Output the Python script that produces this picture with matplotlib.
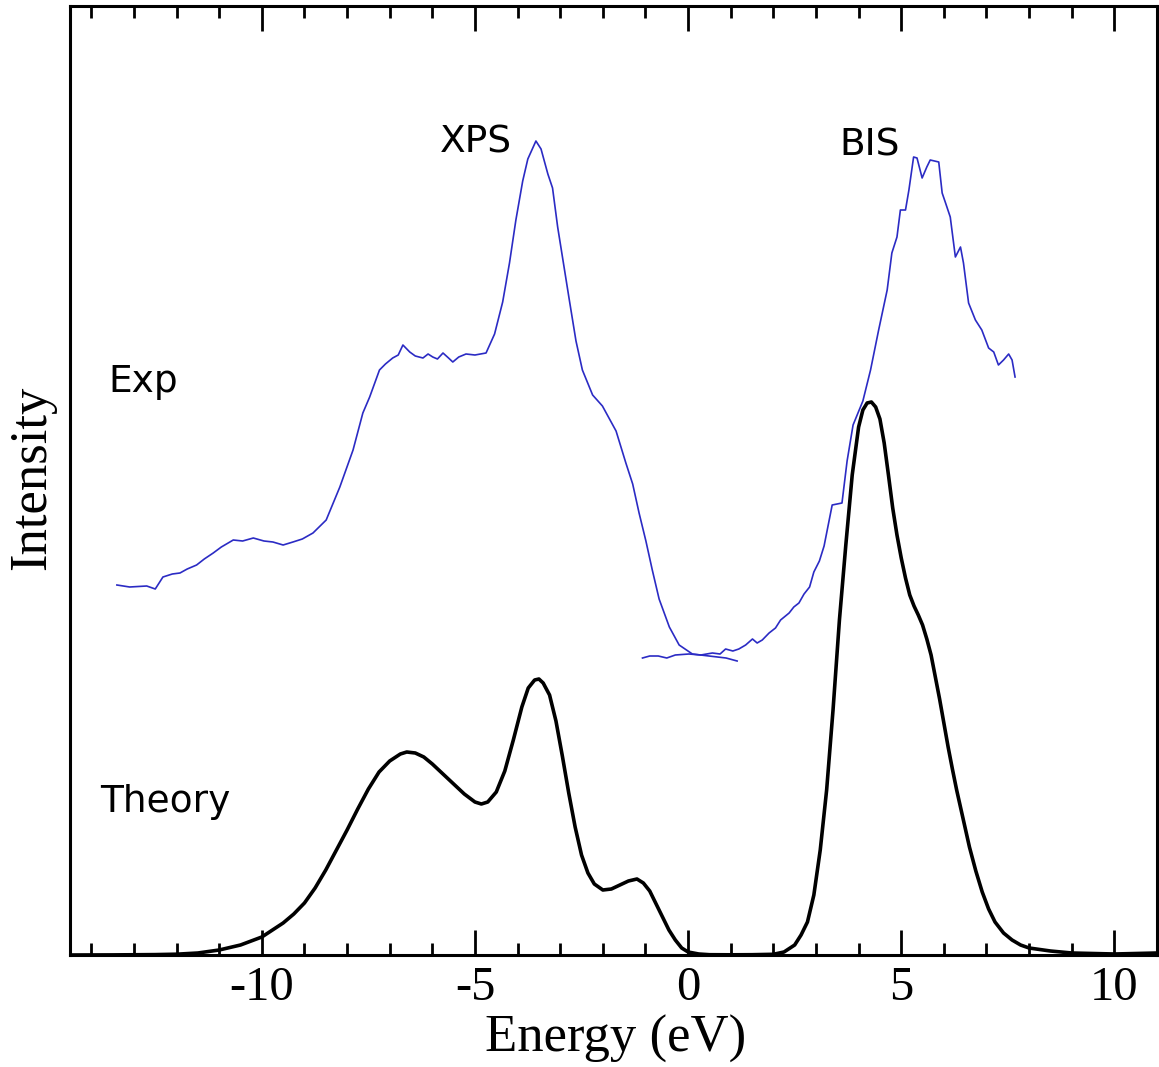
import matplotlib
matplotlib.use("Agg")
import matplotlib.pyplot as plt
from matplotlib.ticker import MultipleLocator

# ---- data (energy in eV, intensity in arbitrary units) ----
xps_x = [-13.40, -13.10, -12.70, -12.50, -12.32, -12.10, -11.92, -11.75, -11.53, -11.35,
         -11.14, -10.95, -10.67, -10.45, -10.20, -9.95, -9.74, -9.50, -9.27, -9.05,
         -8.80, -8.49, -8.17, -7.86, -7.63, -7.47, -7.24, -7.10, -6.93, -6.80,
         -6.69, -6.53, -6.40, -6.22, -6.10, -5.99, -5.88, -5.75, -5.62, -5.52,
         -5.38, -5.21, -5.00, -4.74, -4.54, -4.35, -4.19, -4.04,
         -3.88, -3.76, -3.57, -3.45, -3.29, -3.18, -3.06, -2.94, -2.79, -2.63,
         -2.48, -2.24, -2.01, -1.69, -1.46, -1.30, -1.15, -0.99, -0.84, -0.68,
         -0.44, -0.21, 0.10, 0.49, 0.89, 1.15]
xps_y = [370, 368, 369, 366, 378, 381, 382, 386, 390, 396,
         402, 408, 415, 414, 417, 414, 413, 410, 413, 416,
         422, 435, 468, 505, 542, 558, 585, 591, 597, 600,
         610, 603, 599, 597, 601, 598, 596, 602, 597, 593,
         598, 601, 600, 602, 621, 653, 692, 735,
         774, 796, 814, 806, 781, 767, 728, 696, 656, 614,
         585, 560, 549, 524, 492, 471, 442, 414, 385, 356,
         328, 310, 301, 299, 297, 294]

bis_x = [-1.07, -0.90, -0.70, -0.50, -0.30, 0.02, 0.30, 0.57, 0.75, 0.88,
         1.05, 1.19, 1.35, 1.51, 1.62, 1.74, 1.90, 2.05, 2.17, 2.37,
         2.48, 2.60, 2.72, 2.85, 2.95, 3.08, 3.19, 3.38, 3.61, 3.73,
         3.87, 4.10, 4.28, 4.47, 4.67, 4.78, 4.90, 4.98, 5.10, 5.18,
         5.29, 5.37, 5.49, 5.60, 5.68, 5.88, 5.96, 6.04, 6.15, 6.27,
         6.39, 6.46, 6.58, 6.74, 6.89, 7.05, 7.17, 7.28, 7.40, 7.52,
         7.60, 7.67]
bis_y = [297, 299, 299, 297, 300, 301, 300, 302, 301, 306,
         304, 306, 310, 316, 312, 315, 322, 327, 335, 342,
         348, 352, 361, 368, 383, 394, 409, 450, 452, 494,
         530, 554, 585, 625, 665, 702, 718, 745, 745, 765,
         798, 797, 777, 788, 795, 793, 762, 752, 738, 698,
         708, 692, 652, 635, 625, 607, 603, 590, 595, 601,
         595, 578]

theory_x = [-14.5, -13.5, -12.5, -12.0, -11.5, -11.0, -10.5, -10.0, -9.75, -9.5,
            -9.25, -9.0, -8.75, -8.5, -8.25, -8.0, -7.75, -7.5, -7.25, -7.0,
            -6.75, -6.6, -6.4, -6.2, -6.0, -5.75, -5.5, -5.25, -5.0, -4.85,
            -4.7, -4.5, -4.3, -4.1, -3.9, -3.75, -3.6, -3.5, -3.4, -3.25,
            -3.1, -2.95, -2.8, -2.65, -2.5, -2.35, -2.2, -2.0, -1.8, -1.6,
            -1.4, -1.2, -1.05, -0.9, -0.75, -0.6, -0.45, -0.3, -0.15, 0.0,
            0.25, 0.5, 1.0, 1.5, 2.0, 2.25, 2.5, 2.65, 2.8, 2.95,
            3.1, 3.25, 3.4, 3.55, 3.7, 3.85, 4.0, 4.1, 4.2, 4.3,
            4.4, 4.5, 4.6, 4.7, 4.8, 4.9, 5.0, 5.1, 5.2, 5.3,
            5.4, 5.5, 5.6, 5.7, 5.8, 5.9, 6.0, 6.1, 6.2, 6.3,
            6.4, 6.5, 6.6, 6.75, 6.9, 7.05, 7.2, 7.4, 7.6, 7.8,
            8.0, 8.5, 9.0, 10.0, 11.0]
theory_y = [0, 0.1, 0.4, 0.8, 2, 5, 10, 18, 25, 32,
            41, 52, 67, 85, 105, 125, 146, 166, 183, 194,
            201, 203, 202, 198, 191, 181, 171, 161, 153, 151,
            153, 163, 184, 215, 248, 267, 275, 276, 272, 260,
            234, 199, 162, 128, 100, 82, 71, 65, 66, 70,
            74, 76, 72, 64, 51, 38, 25, 15, 7, 3,
            1, 0.3, 0.2, 0.3, 0.7, 3, 10, 20, 33, 60,
            105, 165, 245, 335, 410, 480, 528, 545, 552, 553,
            548, 536, 512, 480, 447, 420, 397, 377, 360, 349,
            340, 330, 316, 300, 278, 256, 232, 208, 186, 165,
            146, 127, 108, 84, 63, 46, 33, 22, 15, 10,
            7, 4, 2, 1, 2]

xticks = [-10, -5, 0, 5, 10]
xtick_labels = ["-10", "-5", "0", "5", "10"]

# ---- figure ----
W, H = 1159, 1067
fig = plt.figure(figsize=(W / 100, H / 100), dpi=100)
ax = fig.add_axes([70 / W, (H - 955) / H, (1157 - 70) / W, (955 - 6) / H])

blue = "#2b2bc4"
ax.plot(xps_x, xps_y, color=blue, lw=1.2)
ax.plot(bis_x, bis_y, color=blue, lw=1.2)
ax.plot(theory_x, theory_y, color="black", lw=2.6, solid_joinstyle="round")

ax.set_xlim(-14.5, 11.0)
ax.set_ylim(0, 949)

for s in ax.spines.values():
    s.set_linewidth(2.2)

ax.set_xticks(xticks)
ax.set_xticklabels(xtick_labels, family="Liberation Serif", fontsize=35)
ax.xaxis.set_minor_locator(MultipleLocator(1))
ax.tick_params(axis="x", which="both", direction="in", top=True, bottom=True, width=2.0, pad=8)
ax.tick_params(axis="x", which="major", length=18)
ax.tick_params(axis="x", which="minor", length=8.5)
ax.set_yticks([])

sans = "DejaVu Sans"
fs = 27
ax.text(-5.83, 803, "XPS", family=sans, fontsize=fs, ha="left", va="baseline")
ax.text(3.54, 800, "BIS", family=sans, fontsize=fs, ha="left", va="baseline")
ax.text(-13.6, 563, "Exp", family=sans, fontsize=fs, ha="left", va="baseline")
ax.text(-13.8, 143, "Theory", family=sans, fontsize=fs, ha="left", va="baseline")

fig.text(616 / W, (H - 1052) / H, "Energy (eV)", family="Liberation Serif", fontsize=38,
         ha="center", va="baseline")
fig.text(32 / W, (H - 478) / H, "Intensity", family="Liberation Serif", fontsize=38,
         ha="center", va="center", rotation=90)

fig.savefig("out.png", dpi=100)
